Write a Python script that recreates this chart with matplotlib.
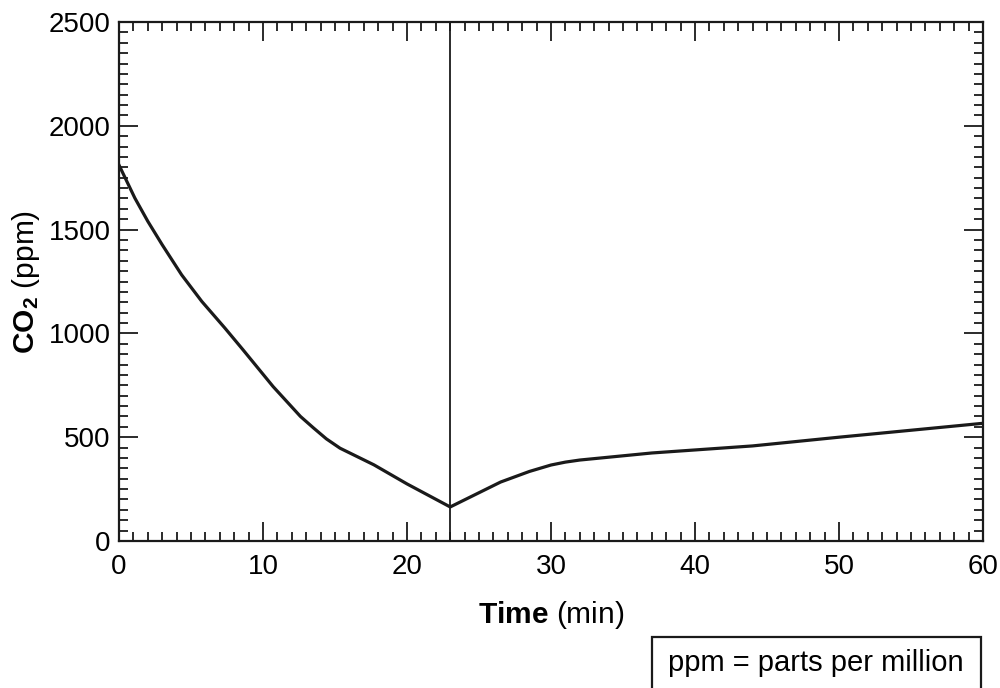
import matplotlib
matplotlib.use("Agg")
import matplotlib.pyplot as plt
from matplotlib.ticker import MultipleLocator
from matplotlib.patches import Rectangle

plt.rcParams["font.family"] = ["Liberation Sans", "DejaVu Sans"]
plt.rcParams["mathtext.fontset"] = "custom"
plt.rcParams["mathtext.rm"] = "Liberation Sans"
plt.rcParams["mathtext.bf"] = "Liberation Sans:bold"

# CO2 readings over time
time_min = [0, 1.1, 2.0, 3.0, 4.35, 5.75, 7.35, 8.6, 10.7, 12.6, 13.5, 14.4, 15.35, 17.7, 20, 23,
            26.5, 28.5, 30, 31, 32, 37, 44, 50, 60]
co2_ppm = [1811, 1652, 1540, 1427, 1282, 1154, 1026, 922, 744, 600, 545, 492, 447, 367, 275, 164,
           284, 335, 366, 380, 390, 424, 458, 500, 567]
marker_time = 23

fig = plt.figure(figsize=(10, 6.88), dpi=100)
ax = fig.add_axes([0.119, 1 - 541 / 688, 0.864, 519 / 688])

ax.plot(time_min, co2_ppm, color="#1a1a1a", lw=2.3, solid_joinstyle="round")
ax.axvline(marker_time, color="#1a1a1a", lw=1.3)

ax.set_xlim(0, 60)
ax.set_ylim(0, 2500)
ax.xaxis.set_major_locator(MultipleLocator(10))
ax.xaxis.set_minor_locator(MultipleLocator(1))
ax.yaxis.set_major_locator(MultipleLocator(500))
ax.yaxis.set_minor_locator(MultipleLocator(50))

ax.tick_params(which="both", direction="in", top=True, right=True, width=1.3, color="#1a1a1a")
ax.tick_params(which="major", length=14, labelsize=20)
ax.tick_params(which="minor", length=6.5)
ax.tick_params(axis="x", pad=9)
ax.tick_params(axis="y", pad=6)
for s in ax.spines.values():
    s.set_linewidth(1.6)
    s.set_color("#1a1a1a")

ax.set_xlabel(r"$\mathbf{Time}$ (min)", fontsize=21.5, labelpad=14)
ax.set_ylabel(r"$\mathbf{CO_2}$ (ppm)", fontsize=21.5, labelpad=5)

# footnote box, bottom edge runs off the figure
fig.patches.append(Rectangle((652 / 1000, -0.01), 329 / 1000, (688 - 637) / 688 + 0.01,
                             transform=fig.transFigure, fill=False, lw=1.6, ec="#1a1a1a"))
fig.text(816 / 1000, 1 - 663 / 688, "ppm = parts per million", ha="center", va="center", fontsize=21)

fig.savefig("out.png", dpi=100)
